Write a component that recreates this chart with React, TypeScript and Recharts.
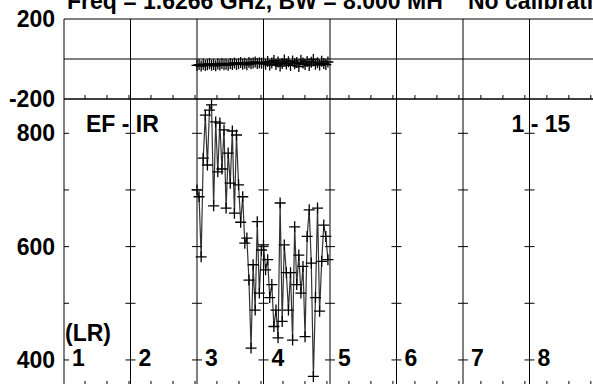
import React from "react";
import { ComposedChart, Line, Scatter, XAxis, YAxis, ReferenceLine, ReferenceDot } from "recharts";

const FONT = "'Liberation Sans', Arial, Helvetica, sans-serif";

// 32 channels per IF; only IF 3 and IF 4 carry data
const channelsPerIf = 32;

const phaseIf3 = [-32, -28, -35, -26, -33, -29, -24, -31, -27, -34, -25, -30, -22, -29, -26, -31, -23, -28, -20, -27, -24, -18, -26, -21, -29, -17, -24, -20, -15, -23, -19, -21];
const phaseIf4 = [-18, -26, -12, -30, -20, -8, -28, -15, -35, -22, -5, -25, -14, -32, -10, -24, -18, -38, -6, -20, -27, -12, -33, -16, -2, -26, -19, -30, -11, -23, -28, -15];

const ampIf3 = [700, 688, 582, 756, 832, 744, 841, 850, 672, 820, 732, 818, 737, 806, 668, 765, 712, 804, 659, 797, 709, 643, 688, 606, 615, 541, 421, 568, 488, 644, 518, 594];
const ampIf4 = [603, 559, 577, 510, 533, 459, 488, 439, 677, 468, 603, 554, 488, 554, 435, 635, 533, 585, 518, 565, 441, 618, 665, 571, 371, 510, 668, 486, 574, 638, 618, 577];

const ifLabels = [1, 2, 3, 4, 5, 6, 7, 8];
const gridIfs = [2, 3, 4, 5, 6, 7, 8];
const minorTicks = [1.316, 1.647, 1.977, 2.308, 2.639, 2.97, 3.3, 3.631, 3.962, 4.293, 4.623, 4.954, 5.285, 5.615, 5.946, 6.277, 6.608, 6.938, 7.269, 7.6, 7.93, 8.261, 8.592, 8.922];
const ampTicks = [800, 700, 600, 500, 400];
const phaseTicks = [200, -200];

const toPoints = (ifNum: number, vals: number[]) =>
  vals.map((y, ch) => ({ x: ifNum + ch / channelsPerIf, y }));

const phase3 = toPoints(3, phaseIf3);
const phase4 = toPoints(4, phaseIf4);
const amp3 = toPoints(3, ampIf3);
const amp4 = toPoints(4, ampIf4);
const gridMarks = ifLabels.flatMap((k) => ampTicks.map((v) => ({ x: k, y: v })));

const labelStyle = { fill: "#000", fontSize: 23, fontWeight: "bold", fontFamily: FONT };

const cross = (p: any) => {
  const { cx, cy, index } = p;
  if (cx == null || cy == null) return <g key={index} />;
  return (
    <path key={index} d={`M${cx - 5.5},${cy}H${cx + 5.5}M${cx},${cy - 5.5}V${cy + 5.5}`} stroke="#000" strokeWidth={1.3} fill="none" />
  );
};

const gridTick = (p: any) => {
  const { cx, cy, payload } = p;
  const x0 = payload && payload.x === 1 ? cx : cx - 5;
  return <line x1={x0} x2={cx + 5} y1={cy} y2={cy} stroke="#000" strokeWidth={1} />;
};

const noLabel = () => <g />;

const W = 700;
const RIGHT = 104;

export default function App() {
  return (
    <div style={{ position: "absolute", left: 0, top: 0, width: 593, height: 384, overflow: "hidden", background: "#fff" }}>
      <svg width={593} height={20} style={{ position: "absolute", left: 0, top: 0 }}>
        <text x={67} y={9} style={labelStyle as any}>Freq = 1.6266 GHz, BW = 8.000 MH</text>
        <text x={468} y={9} style={labelStyle as any}>No calibration</text>
      </svg>

      <div style={{ position: "absolute", left: 0, top: 0 }}>
        <ComposedChart width={W} height={130} margin={{ top: 19, right: RIGHT, bottom: 31, left: 0 }}>
          <XAxis xAxisId="t" dataKey="x" type="number" orientation="top" mirror domain={[1, 9]} ticks={minorTicks} interval={0} tickSize={4} tick={noLabel} stroke="#000" />
          <XAxis xAxisId="b" dataKey="x" type="number" orientation="bottom" mirror domain={[1, 9]} ticks={minorTicks} interval={0} tickSize={4} tick={noLabel} stroke="#000" />
          <YAxis dataKey="y" type="number" domain={[-200, 200]} ticks={phaseTicks} interval={0} width={64} tickLine={false} tickSize={0} tickMargin={9} stroke="#000" tick={labelStyle} />
          <ReferenceLine xAxisId="b" y={0} stroke="#000" />
          {gridIfs.map((k) => (
            <ReferenceLine key={k} xAxisId="b" x={k} stroke="#000" />
          ))}
          <Line xAxisId="b" data={phase3} dataKey="y" stroke="#333" strokeWidth={1.2} dot={cross} isAnimationActive={false} />
          <Line xAxisId="b" data={phase4} dataKey="y" stroke="#333" strokeWidth={1.2} dot={cross} isAnimationActive={false} />
        </ComposedChart>
      </div>

      <div style={{ position: "absolute", left: 0, top: 0 }}>
        <ComposedChart width={W} height={400} margin={{ top: 99, right: RIGHT, bottom: 15, left: 0 }}>
          <XAxis xAxisId="t" dataKey="x" type="number" orientation="top" mirror domain={[1, 9]} ticks={minorTicks} interval={0} tickSize={4} tick={noLabel} stroke="#000" />
          <XAxis xAxisId="b" dataKey="x" type="number" orientation="bottom" mirror domain={[1, 9]} ticks={minorTicks} interval={0} tickSize={4} tick={noLabel} stroke="#000" />
          <YAxis dataKey="y" type="number" domain={[355.8, 860.5]} allowDataOverflow ticks={ampTicks} interval={0} width={64} tickLine={false} tickSize={0} tickMargin={9} stroke="#000" tick={labelStyle} tickFormatter={(v: number) => (v % 200 === 0 ? String(v) : "")} />
          {gridIfs.map((k) => (
            <ReferenceLine key={k} xAxisId="b" x={k} stroke="#000" />
          ))}
          <Scatter xAxisId="b" data={gridMarks} shape={gridTick} isAnimationActive={false} />
          <Line xAxisId="b" data={amp3} dataKey="y" stroke="#333" strokeWidth={1.2} dot={cross} isAnimationActive={false} />
          <Line xAxisId="b" data={amp4} dataKey="y" stroke="#333" strokeWidth={1.2} dot={cross} isAnimationActive={false} />
          {ifLabels.map((k) => (
            <ReferenceDot key={k} xAxisId="b" x={k} y={404} r={0} label={{ value: String(k), position: "right", offset: 8, ...labelStyle }} />
          ))}
          <ReferenceDot xAxisId="b" x={1} y={448} r={0} label={{ value: "(LR)", position: "right", offset: 1, ...labelStyle }} />
          <ReferenceDot xAxisId="b" x={1} y={817} r={0} label={{ value: "EF - IR", position: "right", offset: 22, ...labelStyle }} />
          <ReferenceDot xAxisId="b" x={8} y={817} r={0} label={{ value: "1 - 15", position: "right", offset: -18, ...labelStyle }} />
        </ComposedChart>
      </div>
    </div>
  );
}
